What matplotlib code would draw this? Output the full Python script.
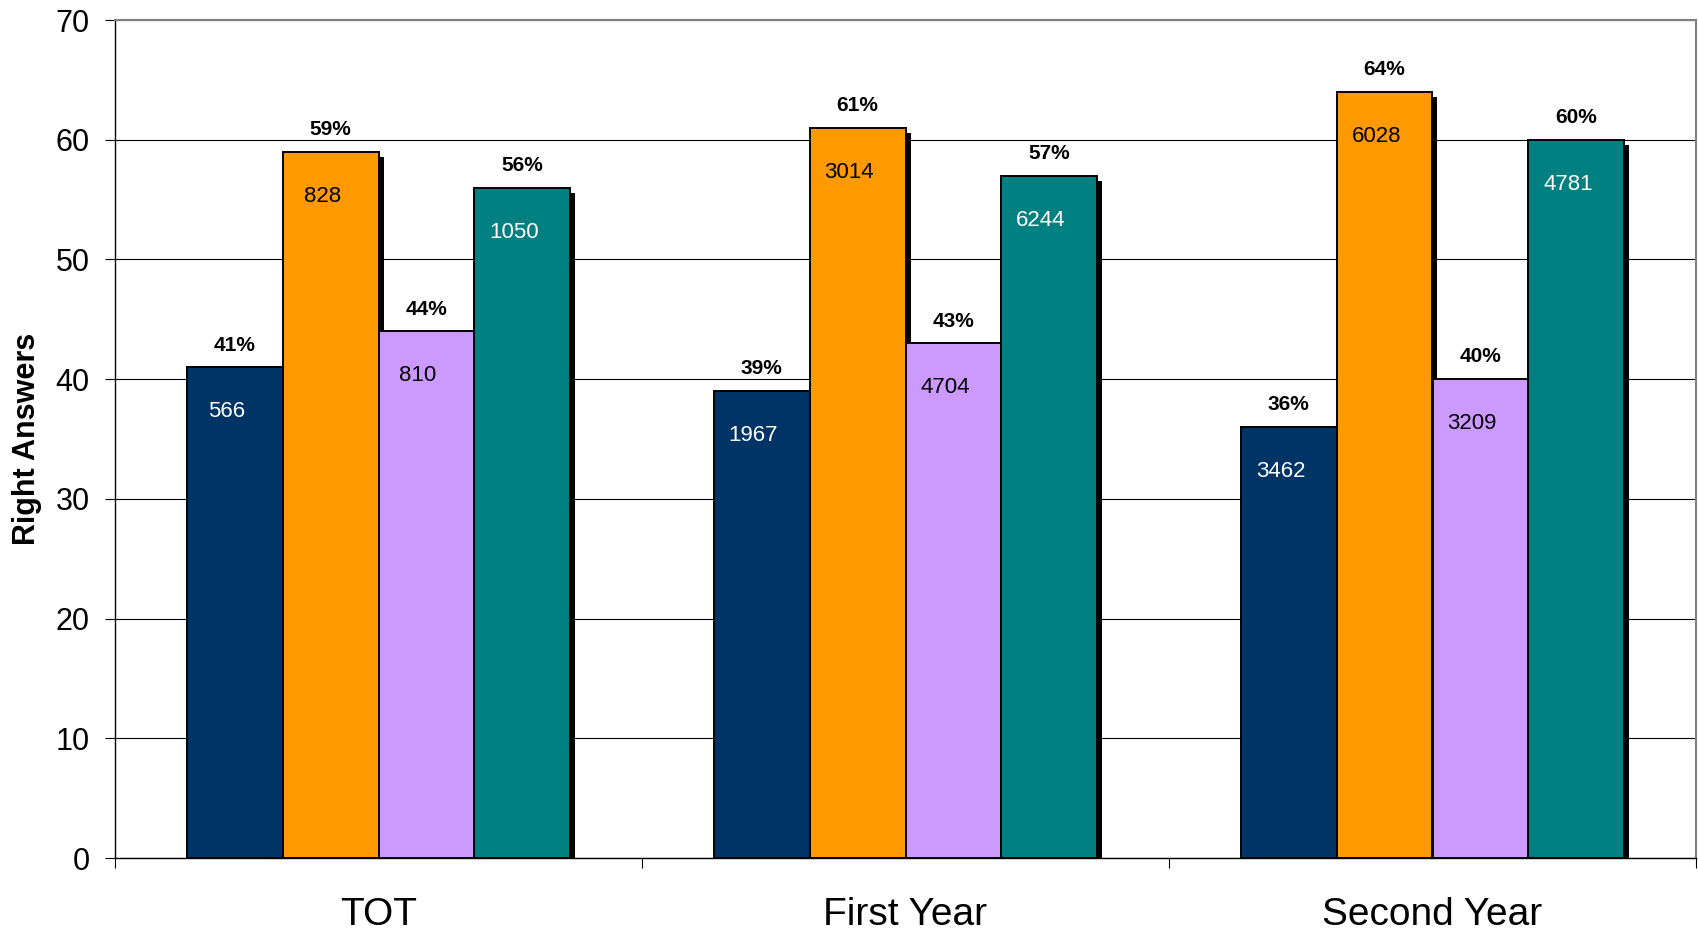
import numpy as np
import matplotlib
matplotlib.use('Agg')
import matplotlib.pyplot as plt
import matplotlib.patheffects as pe

plt.rcParams['font.family'] = ['Liberation Sans', 'DejaVu Sans']

# groups and series
categories = ['TOT', 'First Year', 'Second Year']
percent = [
    [41, 39, 36],
    [59, 61, 64],
    [44, 43, 40],
    [56, 57, 60],
]
counts = [
    [566, 1967, 3462],
    [828, 3014, 6028],
    [810, 4704, 3209],
    [1050, 6244, 4781],
]
colors = ['#003366', '#FF9900', '#CC99FF', '#008080']
count_colors = ['white', 'black', 'black', 'white']

fig = plt.figure(figsize=(16.98, 9.43), dpi=100)
ax = fig.add_axes([115/1698, 1-858/943, (1696-115)/1698, (858-20)/943])

n = len(percent)
w = 1 / (n + 1.5)
start = 0.75 * w
x = np.arange(len(categories))

# black drop shadow under each bar
shadow = [pe.SimplePatchShadow(offset=(3.6, -3.6), shadow_rgbFace='black', alpha=1.0), pe.Normal()]

for i in range(n):
    xs = x + start + i * w + w / 2
    bars = ax.bar(xs, percent[i], w, color=colors[i], edgecolor='black',
                  linewidth=1.4, zorder=3 + i * 0.01)
    for b in bars:
        b.set_path_effects(shadow)
    for xx, p, c in zip(xs, percent[i], counts[i]):
        ax.annotate(f'{p}%', (xx, p), xytext=(0, 12), textcoords='offset points',
                    ha='center', va='baseline', fontsize=15, fontweight='bold', zorder=5)
        ax.annotate(str(c), (xx, p), xytext=(-6, -32), textcoords='offset points',
                    ha='center', va='center', fontsize=16, color=count_colors[i], zorder=5)

ax.set_xlim(0, 3)
ax.set_ylim(0, 70)
ax.set_yticks(range(0, 71, 10))
ax.yaxis.grid(True, color='black', linewidth=0.8, zorder=0)
ax.set_axisbelow(True)

ax.set_xticks([0, 1, 2, 3])
ax.set_xticklabels([])
ax.set_xticks(x + 0.5, minor=True)
ax.set_xticklabels(categories, minor=True, fontsize=28)
ax.tick_params(axis='x', which='minor', length=0, pad=28)
ax.tick_params(axis='x', which='major', length=7.2, width=0.8, direction='out')
ax.tick_params(axis='y', length=7.2, width=0.8, pad=11, labelsize=22)

ax.set_ylabel('Right Answers', fontsize=22, fontweight='bold')
ax.yaxis.set_label_coords(-0.046, 0.5)

for s in ['top', 'right']:
    ax.spines[s].set_color('#808080')
    ax.spines[s].set_linewidth(1.5)
for s in ['left', 'bottom']:
    ax.spines[s].set_color('black')
    ax.spines[s].set_linewidth(1.0)

fig.savefig('out.png', dpi=100)
